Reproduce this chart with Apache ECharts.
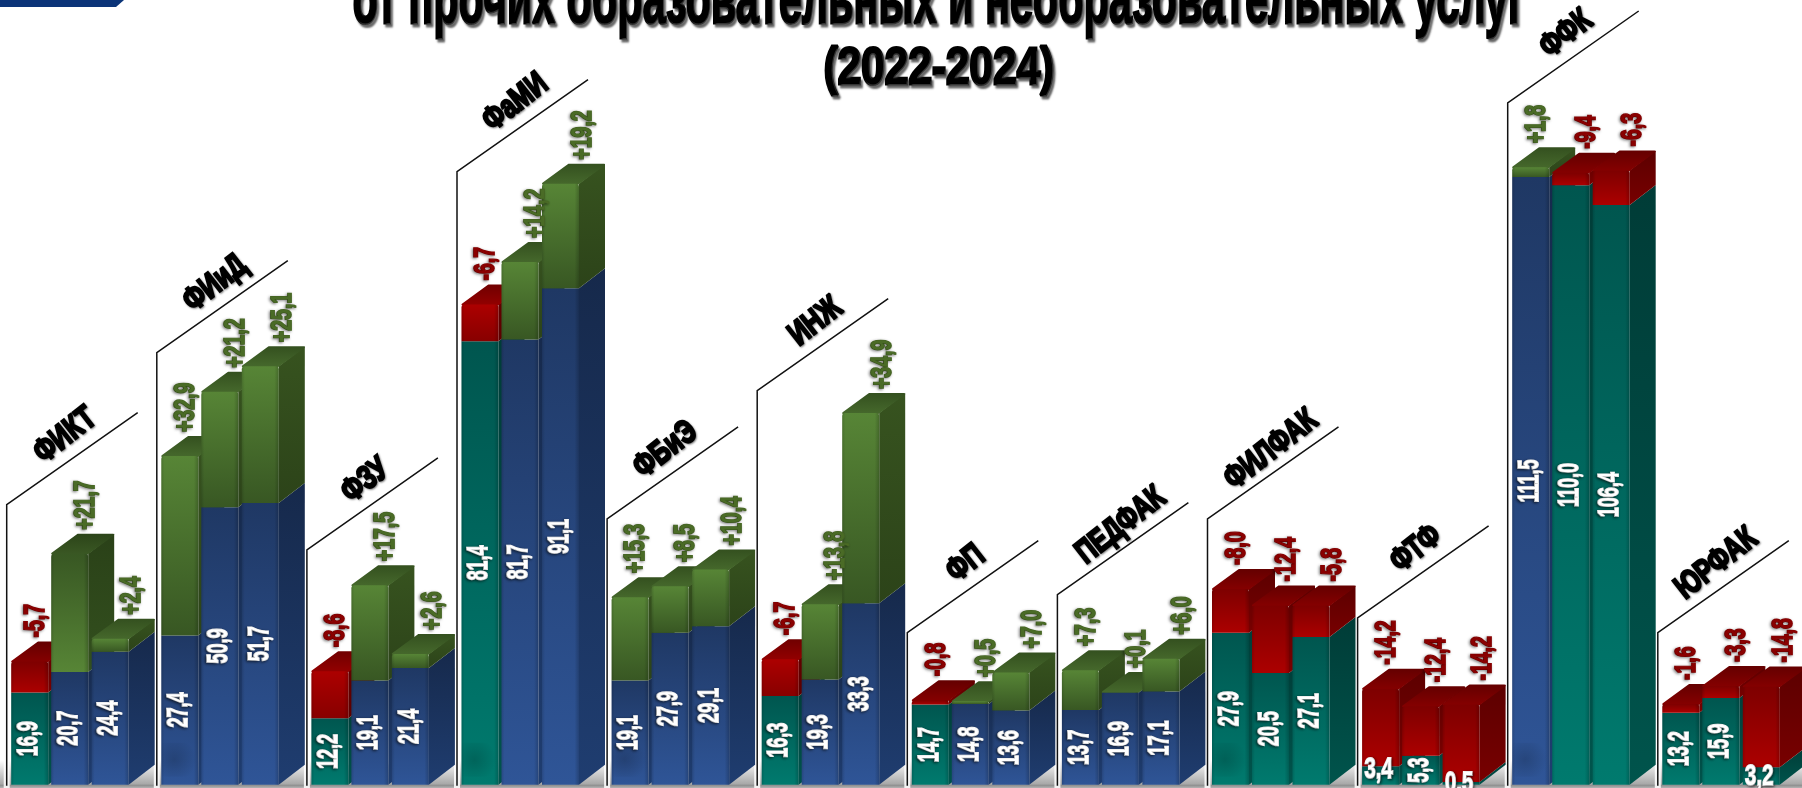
<!DOCTYPE html>
<html><head><meta charset="utf-8">
<style>html,body{margin:0;padding:0;background:#fff;overflow:hidden}#c{width:1802px;height:788px}</style>
<script src="https://cdn.jsdelivr.net/npm/echarts@6/dist/echarts.min.js"></script>
</head><body><div id="c"></div>
<script>
const faculties = ['ФИКТ','ФИиД','ФЗУ','ФаМИ','ФБиЭ','ИНЖ','ФП','ПЕДФАК','ФИЛФАК','ФТФ','ФФК','ЮРФАК'];
const incomeValues = [
  [16.9,20.7,24.4],[27.4,50.9,51.7],[12.2,19.1,21.4],[81.4,81.7,91.1],
  [19.1,27.9,29.1],[16.3,19.3,33.3],[14.7,14.8,13.6],[13.7,16.9,17.1],
  [27.9,20.5,27.1],[3.4,5.3,0.5],[111.5,110.0,106.4],[13.2,15.9,3.2]];
const changeValues = [
  [-5.7,21.7,2.4],[32.9,21.2,25.1],[-8.6,17.5,2.6],[-6.7,14.2,19.2],
  [15.3,8.5,10.4],[-6.7,13.8,34.9],[-0.8,0.5,7.0],[7.3,0.1,6.0],
  [-8.0,-12.4,-5.8],[-14.2,-12.4,-14.2],[1.8,-9.4,-6.3],[-1.6,-3.3,-14.8]];
// height of the upper block as actually drawn in the picture (differs from its label on three bars)
const drawnChange = [
  [5.7,21.7,2.4],[32.9,21.2,25.1],[8.6,17.5,2.6],[6.7,14.2,19.2],
  [15.3,8.5,10.4],[6.7,13.8,34.9],[0.8,0.5,7.0],[7.3,0.1,6.0],
  [8.0,12.4,5.8],[14.2,9.1,14.2],[1.8,2.3,6.3],[1.6,2.2,14.8]];
const frameHeights = [51.4,79.3,43.1,112.5,48.8,72.3,27.9,34.9,48.8,30.6,125.1,27.9];
const titleLine1 = 'от прочих образовательных и необразовательных услуг';
const titleLine2 = '(2022-2024)';

const FONT = "'Liberation Sans','Arial',sans-serif";
const W = 37, DX = 26, DY = 20;
const OFFS = [4.5, 44.5, 85];
const LABEL_SHIFT = [6, 16, 22];
const grad = (a, b) => new echarts.graphic.LinearGradient(0,0,0,1,[{offset:0,color:a},{offset:1,color:b}]);
const PAL = {
  blue:  {f:['#1f3864','#2f5597'], s:['#16294b','#1f3d70']},
  teal:  {f:['#00564f','#007a6e'], s:['#003c37','#00544c']},
  green: {f:['#578536','#385723'], s:['#37531f','#2c4319'], t:['#34501f','#46692c']},
  greenR:{f:['#385723','#578536'], s:['#2a4118','#33501e'], t:['#2c4419','#3a5824']},
  red:   {f:['#7e0000','#ac0000'], s:['#5c0000','#780000'], t:['#640000','#860000']},
  redB:  {f:['#ac0000','#880000'], s:['#640000','#5c0000'], t:['#700000','#940000']}
};
const FLIP = {'0-1':1,'2-0':1,'3-0':1,'5-0':1};
const H_RAISE = {'3,4':15,'0,5':1,'3,2':8};
const fmt = v => Math.abs(v).toFixed(1).replace('.',',');

const barData = [];
incomeValues.forEach((row,g)=>row.forEach((v,i)=>barData.push([g,i,v,changeValues[g][i],drawnChange[g][i]])));
const frameData = frameHeights.map((h,g)=>[g,h]);

function vText(text,x,y,fill,opts){
  opts = opts||{};
  return {type:'text',x,y,rotation:opts.h?0:Math.PI/2,scaleX:opts.sx||0.6,z2:50,
    style:{text,font:`bold 30px ${FONT}`,fill,align:opts.align||'center',verticalAlign:'middle',
      stroke:fill,lineWidth:1.8,textShadowColor:opts.shadow||'rgba(0,0,0,.55)',textShadowBlur:3,textShadowOffsetX:opts.h?1:-1,textShadowOffsetY:1}};
}

function renderBar(params,api){
  const g=api.value(0),i=api.value(1),base=api.value(2),ch=api.value(3),dr=api.value(4);
  const band=api.size([1,0])[0];
  const left=api.coord([g,0])[0]-band/2+OFFS[i];
  const y0=api.coord([g,0])[1], yb=api.coord([g,base])[1], yt=api.coord([g,base+dr])[1];
  const up=ch>0, x=left, xr=left+W;
  const bp=up?PAL.blue:PAL.teal;
  const flip=FLIP[g+'-'+i];
  const tp=up?(flip?PAL.greenR:PAL.green):(flip?PAL.redB:PAL.red);
  const kids=[];
  const poly=(pts,fill)=>kids.push({type:'polygon',shape:{points:pts},style:{fill}});
  // side faces
  poly([[xr,yb],[xr+DX,yb-DY],[xr+DX,y0-DY],[xr,y0]],grad(bp.s[0],bp.s[1]));
  poly([[xr,yt],[xr+DX,yt-DY],[xr+DX,yb-DY],[xr,yb]],grad(tp.s[0],tp.s[1]));
  // top face
  const tf=grad(tp.t[0],tp.t[1]);
  kids.push({type:'polygon',shape:{points:[[x+1,yt],[xr-1,yt],[xr+DX-1,yt-DY+1],[x+DX+1,yt-DY+1]]},
    style:{fill:tf,stroke:tf,lineWidth:2,lineJoin:'round'}});
  // front faces
  kids.push({type:'rect',shape:{x,y:yb,width:W,height:y0-yb},style:{fill:grad(bp.f[0],bp.f[1])}});
  kids.push({type:'rect',shape:{x,y:yt,width:W,height:yb-yt,r:[3,3,0,0]},style:{fill:grad(tp.f[0],tp.f[1])}});
  // soft edge shading on the front
  kids.push({type:'rect',shape:{x,y:yt,width:W,height:y0-yt,r:[3,3,0,0]},style:{fill:new echarts.graphic.LinearGradient(0,0,1,0,[
    {offset:0,color:'rgba(0,0,0,.14)'},{offset:.08,color:'rgba(0,0,0,0)'},{offset:.88,color:'rgba(0,0,0,0)'},{offset:1,color:'rgba(0,0,0,.2)'}])}});
  // shadow blob on the first bar of a group
  if(i===0 && base>18){
    kids.push({type:'rect',shape:{x,y:y0-42,width:W,height:34},style:{fill:new echarts.graphic.RadialGradient(0.35,0.5,0.65,[
      {offset:0,color:'rgba(0,0,0,.17)'},{offset:1,color:'rgba(0,0,0,0)'}])}});
  }
  // labels
  const baseTxt=fmt(base);
  if(base<5){
    kids.push(vText(baseTxt,x+W/2-2,y0-(H_RAISE[baseTxt]||0),'#fff',{h:true,sx:.68}));
  }else{
    kids.push(vText(baseTxt,x+W/2-1,(y0+yb)/2,'#fff',{sx:.6}));
  }
  const chTxt=(up?'+':'-')+fmt(ch);
  kids.push(vText(chTxt,x+W/2+LABEL_SHIFT[i],yt-DY-4,up?'#4a6b26':'#8a0000',{shadow:'rgba(0,0,0,.4)',align:'left',sx:.65}));
  return {type:'group',children:kids};
}

function renderFrame(params,api){
  const g=api.value(0),h=api.value(1);
  const band=api.size([1,0])[0];
  const x=api.coord([g,0])[0]-band/2, y0=api.coord([g,0])[1], yt=api.coord([g,h])[1];
  const xe=x+131, ye=yt-92, name=faculties[g];
  const off=name.length>=6?-2:-7;
  return {type:'group',children:[
    {type:'line',shape:{x1:x,y1:y0-26,x2:x,y2:y0+4},style:{stroke:'rgba(255,255,255,.85)',lineWidth:6}},
    {type:'polyline',shape:{points:[[x,y0+1],[x,yt],[xe,ye]]},style:{stroke:'#111',lineWidth:1.5,fill:null}},
    {type:'text',x:(x+xe)/2+off,y:(yt+ye)/2-23,rotation:38*Math.PI/180,scaleX:.74,
      style:{text:name,font:`bold 33px ${FONT}`,fill:'#000',stroke:'#000',lineWidth:2.4,align:'center',verticalAlign:'middle',
        textShadowColor:'rgba(0,0,0,.4)',textShadowBlur:2,textShadowOffsetX:1,textShadowOffsetY:1}}
  ]};
}

const chart=echarts.init(document.getElementById('c'),null,{renderer:'canvas'});
chart.setOption({
  animation:false,
  backgroundColor:'#fff',
  grid:{left:6.7,top:0,width:1801.2,height:784.7,outerBoundsMode:'none'},
  xAxis:{type:'category',data:faculties,show:false},
  yAxis:{type:'value',min:0,max:144,show:false},
  graphic:[
    {type:'rect',z:-1,silent:true,shape:{x:0,y:760,width:1802,height:28},style:{fill:new echarts.graphic.LinearGradient(0,0,0,1,[
      {offset:0,color:'#ffffff'},{offset:.86,color:'#a8a8a8'},{offset:.9,color:'#8e8e8e'},{offset:1,color:'#b4b4b4'}])}},
    {type:'polygon',silent:true,shape:{points:[[0,0],[124,0],[116,7],[0,7]]},style:{fill:'#0b3478'}},
    {type:'text',silent:true,x:939,y:4,scaleX:.59,z:100,style:{text:titleLine1,font:`bold 70px ${FONT}`,fill:'#000',stroke:'#000',lineWidth:3,align:'center',verticalAlign:'middle',
      textShadowColor:'rgba(70,70,70,.75)',textShadowBlur:2,textShadowOffsetX:2,textShadowOffsetY:3}},
    {type:'text',silent:true,x:939,y:70,scaleX:.83,z:100,style:{text:titleLine2,font:`bold 51px ${FONT}`,fill:'#000',stroke:'#000',lineWidth:3,align:'center',verticalAlign:'middle',
      textShadowColor:'rgba(70,70,70,.75)',textShadowBlur:2,textShadowOffsetX:2,textShadowOffsetY:3}}
  ],
  series:[
    {type:'custom',name:'frames',data:frameData,renderItem:renderFrame,z:1,silent:true,clip:false,encode:{x:0,y:1}},
    {type:'custom',name:'bars',data:barData,renderItem:renderBar,z:2,silent:true,clip:false,encode:{x:0,y:2}}
  ]
});
</script></body></html>
